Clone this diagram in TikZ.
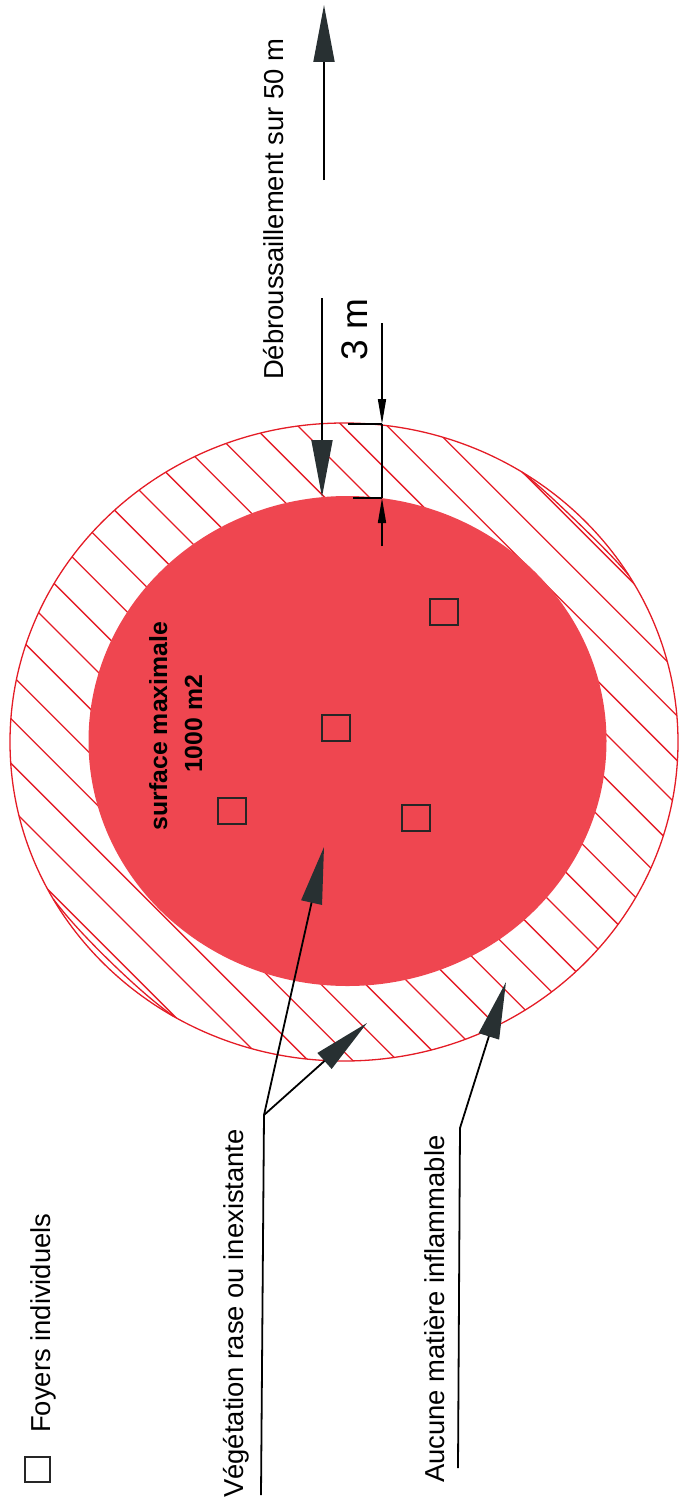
\documentclass[tikz,border=0pt]{standalone}
\usepackage{fontspec}
\setmainfont{Liberation Sans}
\usetikzlibrary{arrows.meta}
\definecolor{disc}{RGB}{239,70,80}
\definecolor{hatchred}{RGB}{228,28,38}
\definecolor{tipc}{RGB}{40,48,50}
\begin{document}
\begin{tikzpicture}[x=1pt,y=-1pt,
  lbl/.style={font=\fontsize{27.4}{30}\selectfont, rotate=90, anchor=base west, inner sep=0pt},
  inlbl/.style={font=\fontsize{24.8}{28}\selectfont\bfseries, rotate=90, anchor=base, inner sep=0pt},
  foyer/.style={draw=black!85, line width=2pt, minimum width=28pt, minimum height=26pt, inner sep=0pt},
  ring/.style={draw=hatchred, line width=1.3pt},
  hline/.style={draw=hatchred, line width=1.3pt},
  leader/.style={draw=black, line width=1.8pt},
  bigtip/.style={-{Triangle[length=57pt,width=21pt,color=tipc]}},
  smalltip/.style={-{Triangle[length=25pt,width=8pt]}},
  dimline/.style={draw=black, line width=1.6pt}
]
\useasboundingbox (0,0) rectangle (678,1504);

% hatching of the outer ring
\begin{scope}
  \clip (344,742) ellipse [x radius=334pt, y radius=319pt];
  \foreach \k in {-5,...,18} {
    \draw[hline] (-100,{28+44.6*\k}) -- (800,{928+44.6*\k});
  }
\end{scope}

% red disc
\fill[disc] (347.5,741) ellipse [x radius=259pt, y radius=245pt];

% outer circle and its doubled strokes
\draw[ring] (344,742) ellipse [x radius=334pt, y radius=319pt];
\draw[ring] plot[domain=31.5:57.8, samples=40, variable=\t]
  ({344+(334-6*sin((\t-31.5)*6.844))*cos(\t)}, {742-(319-6*sin((\t-31.5)*6.844))*sin(\t)});
\draw[ring] plot[domain=209.5:239.3, samples=40, variable=\t]
  ({344+(334-6*sin((\t-209.5)*6.04))*cos(\t)}, {742-(319-6*sin((\t-209.5)*6.04))*sin(\t)});

% foyers
\node[foyer] (f1) at (444,612) {};
\node[foyer] (f2) at (336,728) {};
\node[foyer] (f3) at (232,811) {};
\node[foyer] (f4) at (416,818) {};

% text in the disc
\node[inlbl] (surf) at (167,726) {surface maximale};
\node[inlbl] (mille) at (202,724) {1000 m2};

% legend
\node[foyer, minimum width=25pt, minimum height=25pt] (leg) at (37.5,1469.5) {};
\node[lbl] (foyers) at (50,1433) {Foyers individuels};

% Débroussaillement
\node[lbl] (deb) at (283,380) {Débroussaillement sur 50 m};
\coordinate (up1) at (324,180);
\coordinate (up2) at (324,5);
\draw[leader, bigtip] (up1) -- (up2);
\coordinate (dn1) at (322,298);
\coordinate (dn2) at (322,497);
\draw[leader, bigtip] (dn1) -- (dn2);

% 3 m dimension
\node[lbl, font=\fontsize{37}{40}\selectfont] (trois) at (367,361) {3 m};
\coordinate (d0) at (382,323);
\coordinate (dA) at (382,424);
\coordinate (dB) at (382,498);
\coordinate (d3) at (382,546);
\coordinate (eA) at (348,424);
\coordinate (eB) at (353,498);
\draw[dimline, smalltip] (d0) -- (dA);
\draw[dimline] (dA) -- (dB);
\draw[dimline, smalltip] (d3) -- (dB);
\draw[dimline] (eA) -- (dA);
\draw[dimline] (eB) -- (dB);

% Végétation leader
\node[lbl] (veg) at (243,1498) {Végétation rase ou inexistante};
\coordinate (v0) at (261,1495);
\coordinate (vk) at (264,1115);
\coordinate (vc) at (324,847);
\coordinate (vr) at (367,1023);
\draw[leader] (v0) -- (vk);
\draw[leader, bigtip] (vk) -- (vc);
\draw[leader, bigtip] (vk) -- (vr);

% Aucune leader
\node[lbl] (auc) at (444,1483) {Aucune matière inflammable};
\coordinate (a0) at (458,1468);
\coordinate (ak) at (460,1128);
\coordinate (ar) at (506,982);
\draw[leader] (a0) -- (ak);
\draw[leader, bigtip] (ak) -- (ar);
\end{tikzpicture}
\end{document}
